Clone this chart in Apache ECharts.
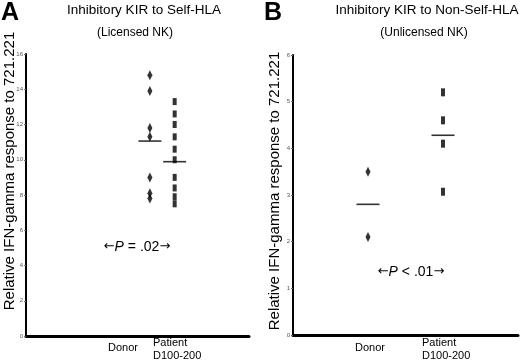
<!DOCTYPE html>
<html><head><meta charset="utf-8">
<script src="https://cdn.jsdelivr.net/npm/echarts@6/dist/echarts.min.js"></script>
<style>html,body{margin:0;padding:0;background:#fff}#c{width:520px;height:363px}</style>
</head><body><div id="c"></div>
<script>
// Panel A: Inhibitory KIR to Self-HLA (Licensed NK)
const groupPos = [1, 2]; // Donor, Patient positions on hidden x scale
const categories = ['Donor', 'Patient\nD100-200'];
const aDonor = [14.8, 13.9, 11.8, 11.3, 9.0, 8.1, 7.8];
const aPatient = [13.3, 12.6, 12.0, 11.3, 10.6, 10.0, 9.0, 8.4, 7.9, 7.5];
const aMeans = [11.06, 9.89];
const aTicks = [0, 2, 4, 6, 8, 10, 12, 14, 16];
// Panel B: Inhibitory KIR to Non-Self-HLA (Unlicensed NK)
const bDonor = [3.5, 2.1];
const bPatient = [5.2, 4.6, 4.1, 3.07];
const bMeans = [2.8, 4.28];
const bTicks = [0, 1, 2, 3, 4, 5, 6];

const FONT = 'Liberation Sans, Arial, sans-serif';
const chart = echarts.init(document.getElementById('c'));

function yAx(idx, ticks, interval) {
  return {
    type: 'value', gridIndex: idx, min: ticks[0], max: ticks[ticks.length - 1], interval: interval,
    axisLine: {show: true, onZero: false, lineStyle: {color: '#000', width: 2}},
    axisTick: {show: true, length: 2, lineStyle: {color: '#666', width: 1}},
    axisLabel: {fontSize: 6, color: '#555', margin: 3, fontFamily: FONT},
    splitLine: {show: false}
  };
}
function xAx(idx, min, max) {
  return {
    type: 'value', gridIndex: idx, min: min, max: max,
    axisLine: {show: true, onZero: false, lineStyle: {color: '#000', width: 3}},
    axisTick: {show: false}, axisLabel: {show: false}, splitLine: {show: false}
  };
}
function pts(pos, vals) { return vals.map(v => [pos, v]); }

const arrowRich = {
  a: {font: '14px ' + FONT, fill: '#000'},
  i: {font: 'italic 14px ' + FONT, fill: '#000'},
  r: {font: '13px DejaVu Sans', fill: '#000'}
};

const option = {
  animation: false,
  grid: [
    {left: 26, right: 271, top: 54, bottom: 27},
    {left: 293, right: 2, top: 55, bottom: 28}
  ],
  xAxis: [xAx(0, -4, 5), xAx(1, 0, 3)],
  yAxis: [yAx(0, aTicks, 2), yAx(1, bTicks, 1)],
  series: [
    {type: 'scatter', xAxisIndex: 0, yAxisIndex: 0, symbol: 'diamond', symbolSize: [5, 10],
     itemStyle: {color: '#000'}, data: pts(groupPos[0], aDonor)},
    {type: 'scatter', xAxisIndex: 0, yAxisIndex: 0, symbol: 'rect', symbolSize: [4, 7],
     itemStyle: {color: '#000'}, data: pts(groupPos[1], aPatient)},
    {type: 'scatter', xAxisIndex: 0, yAxisIndex: 0, symbol: 'rect', symbolSize: [23, 1.6],
     itemStyle: {color: '#000'}, data: groupPos.map((p, i) => [p, aMeans[i]])},
    {type: 'scatter', xAxisIndex: 1, yAxisIndex: 1, symbol: 'diamond', symbolSize: [5, 10],
     itemStyle: {color: '#000'}, data: pts(groupPos[0], bDonor)},
    {type: 'scatter', xAxisIndex: 1, yAxisIndex: 1, symbol: 'rect', symbolSize: [4, 8],
     itemStyle: {color: '#000'}, data: pts(groupPos[1], bPatient)},
    {type: 'scatter', xAxisIndex: 1, yAxisIndex: 1, symbol: 'rect', symbolSize: [23, 1.6],
     itemStyle: {color: '#000'}, data: groupPos.map((p, i) => [p, bMeans[i]])}
  ],
  graphic: [
    {type: 'text', left: 1, top: 1, style: {text: 'A', font: 'bold 25px ' + FONT, fill: '#000'}},
    {type: 'text', left: 264, top: 1, style: {text: 'B', font: 'bold 25px ' + FONT, fill: '#000'}},
    {type: 'text', x: 144, y: 10, style: {text: 'Inhibitory KIR to Self-HLA', font: '13.5px ' + FONT, fill: '#000', align: 'center', verticalAlign: 'middle'}},
    {type: 'text', x: 135, y: 33, style: {text: '(Licensed NK)', font: '12px ' + FONT, fill: '#000', align: 'center', verticalAlign: 'middle'}},
    {type: 'text', x: 427, y: 10, style: {text: 'Inhibitory KIR to Non-Self-HLA', font: '13.5px ' + FONT, fill: '#000', align: 'center', verticalAlign: 'middle'}},
    {type: 'text', x: 424, y: 33, style: {text: '(Unlicensed NK)', font: '12px ' + FONT, fill: '#000', align: 'center', verticalAlign: 'middle'}},
    {type: 'text', x: 10, y: 171, rotation: Math.PI / 2, style: {text: 'Relative IFN-gamma response to 721.221', font: '15px ' + FONT, fill: '#000', align: 'center', verticalAlign: 'middle'}},
    {type: 'text', x: 275, y: 191, rotation: Math.PI / 2, style: {text: 'Relative IFN-gamma response to 721.221', font: '15px ' + FONT, fill: '#000', align: 'center', verticalAlign: 'middle'}},
    {type: 'text', x: 137, y: 247, style: {text: '{r|\u2190}{i|P}{a| = .02}{r|\u2192}', align: 'center', verticalAlign: 'middle', rich: arrowRich}},
    {type: 'text', x: 411, y: 272, style: {text: '{r|\u2190}{i|P}{a| < .01}{r|\u2192}', align: 'center', verticalAlign: 'middle', rich: arrowRich}},
    {type: 'text', x: 123, y: 348, style: {text: categories[0], font: '11px ' + FONT, fill: '#000', align: 'center', verticalAlign: 'middle'}},
    {type: 'text', x: 153, y: 349, style: {text: categories[1], font: '11px ' + FONT, fill: '#000', align: 'left', verticalAlign: 'middle', lineHeight: 13}},
    {type: 'text', x: 370, y: 348, style: {text: categories[0], font: '11px ' + FONT, fill: '#000', align: 'center', verticalAlign: 'middle'}},
    {type: 'text', x: 422, y: 349, style: {text: categories[1], font: '11px ' + FONT, fill: '#000', align: 'left', verticalAlign: 'middle', lineHeight: 13}}
  ]
};
chart.setOption(option);
</script></body></html>
